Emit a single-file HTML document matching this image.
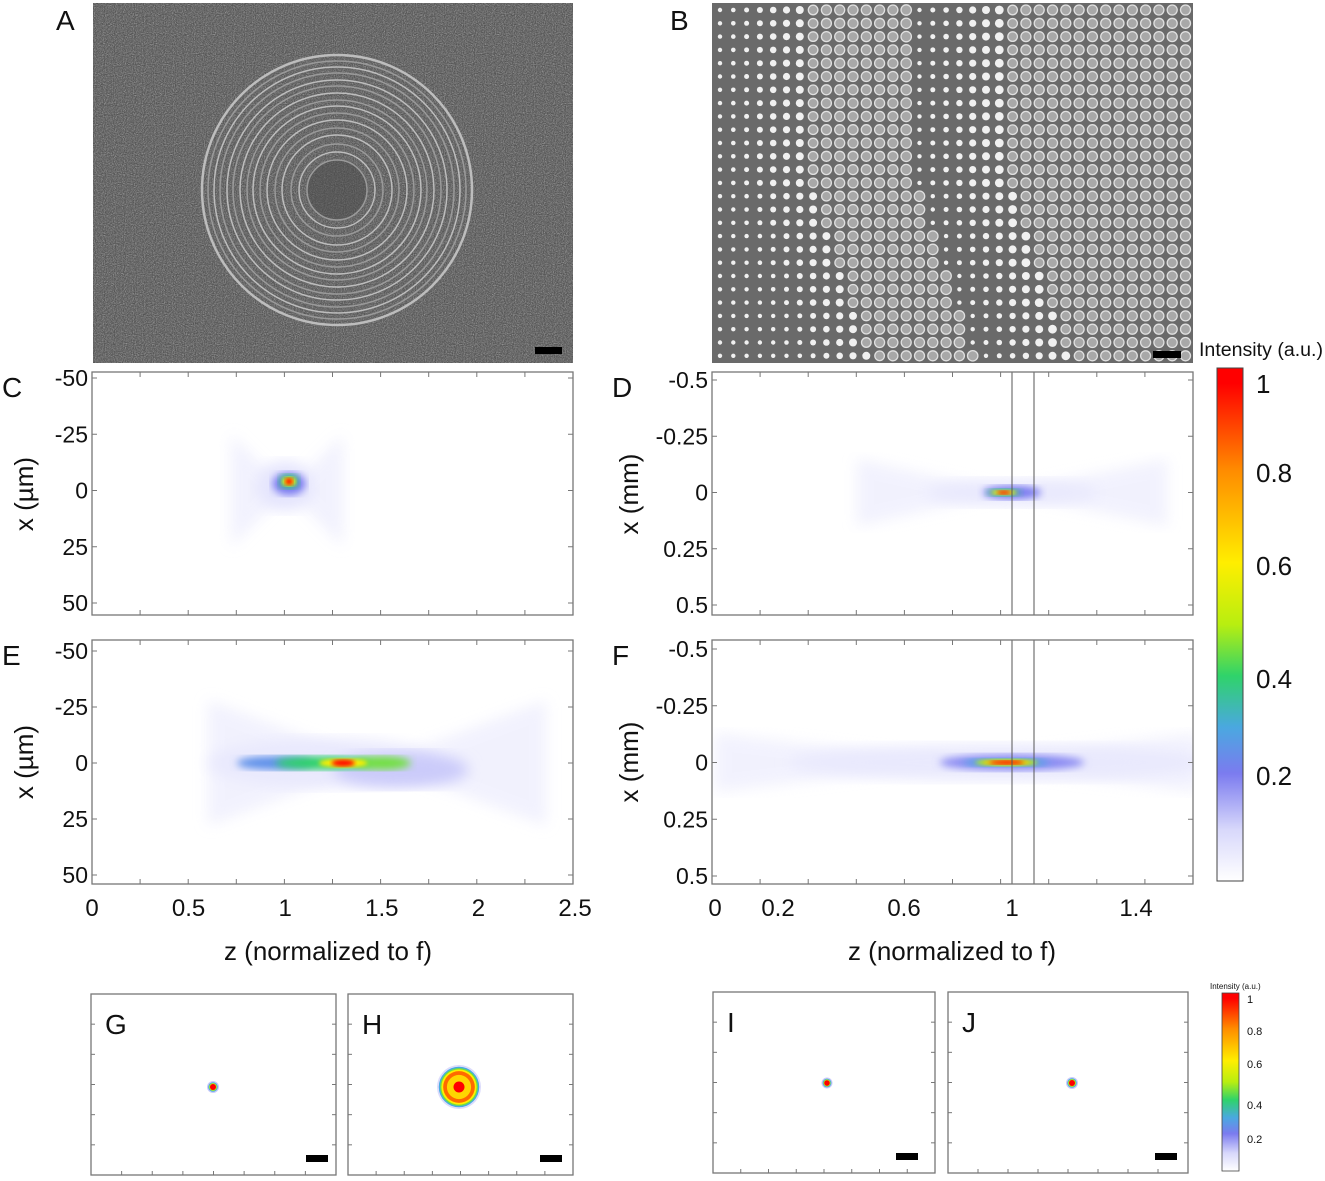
<!DOCTYPE html>
<html><head><meta charset="utf-8"><style>
html,body{margin:0;padding:0;background:#fff;width:1325px;height:1181px;overflow:hidden}
text{font-family:"Liberation Sans",sans-serif;fill:#111}
</style></head><body>
<svg id="fig" width="1325" height="1181" viewBox="0 0 1325 1181" xmlns="http://www.w3.org/2000/svg">
<defs>
<filter id="noise" x="0" y="0" width="100%" height="100%"><feTurbulence type="fractalNoise" baseFrequency="0.9" numOctaves="2" seed="3"/><feColorMatrix type="matrix" values="0 0 0 0 0.5  0 0 0 0 0.5  0 0 0 0 0.5  0.7 0.7 0.7 0 -0.85"/></filter>
<filter id="b2"><feGaussianBlur stdDeviation="2"/></filter>
<filter id="b4"><feGaussianBlur stdDeviation="4"/></filter>
<filter id="b8"><feGaussianBlur stdDeviation="7"/></filter>
<linearGradient id="cbar" x1="0" y1="1" x2="0" y2="0">
<stop offset="0" stop-color="#ffffff"/><stop offset="0.1" stop-color="#d8d8fb"/><stop offset="0.21" stop-color="#7b7bef"/>
<stop offset="0.3" stop-color="#4aa8e0"/><stop offset="0.4" stop-color="#2fd36a"/><stop offset="0.5" stop-color="#b8ee10"/>
<stop offset="0.62" stop-color="#ffee00"/><stop offset="0.8" stop-color="#ff8c00"/><stop offset="0.97" stop-color="#ff0000"/><stop offset="1" stop-color="#ff0000"/>
</linearGradient>
</defs>
<g id="root"></g>
</svg>
<script>
// ---- data arrays ----
const ringRadii=[30,38,46,55,62,70,77,84,90,97,104,110,117,123,129,135];
const dotColSizes=[2.2,2.3,2.5,3,3.3,3.6,4,4.8,5,5,5,5,5,5,5.2,2.2,2.5,2.8,3.2,3.6,4,4.4,4.8,5,5,5,5,5,5,5,5,5,5,5,5,5];
// C panel blobs (z normalized, x µm, width z, width x, intensity)
const cZ=[1.0,1.02,1.02,1.02,1.02], cX=[-2,-3,-4,-4,-4], cWZ=[0.3,0.17,0.1,0.07,0.04], cWX=[22,10,6,4,3], cI=[0.06,0.2,0.4,0.6,1.0];
const cConeZ=[0.72,1.3], cConeX=[25,25];
// E panel blobs
const eZ=[1.2,1.6,0.95,1.2,1.5,1.3,1.3], eX=[0,3,0,0,0,0,0], eWZ=[1.2,0.7,0.4,0.5,0.3,0.25,0.12], eWX=[22,16,6,6,6,4,3], eI=[0.05,0.1,0.25,0.4,0.45,0.6,1.0];
// D panel blobs (z, x mm)
const dZ=[1.0,1.0,0.97,0.97,0.97], dX=[0,0,0,0,0], dWZ=[0.6,0.2,0.12,0.09,0.05], dWX=[0.12,0.06,0.03,0.022,0.015], dI=[0.05,0.2,0.4,0.6,1.0];
// F panel blobs
const fZ=[0.95,1.0,0.98,0.98,0.98,0.98], fX=[0,0,0,0,0,0], fWZ=[1.4,0.5,0.3,0.22,0.17,0.12], fWX=[0.16,0.07,0.035,0.03,0.022,0.016], fI=[0.05,0.18,0.3,0.5,0.7,1.0];
// colorbar ticks
const cbTicks=[0.2,0.4,0.6,0.8,1], cbTickY=[775,678,565,472,383];
const cTickLabels=["-50","-25","0","25","50"], cTickVals=[-50,-25,0,25,50];
const dTickLabels=["-0.5","-0.25","0","0.25","0.5"], dTickVals=[-0.5,-0.25,0,0.25,0.5];
const eZLabels=["0","0.5","1","1.5","2","2.5"], eZVals=[0,0.5,1,1.5,2,2.5];
const fZLabels=["0","0.2","0.6","1","1.4"], fZVals=[0,0.2,0.6,1,1.4];

const NS="http://www.w3.org/2000/svg", root=document.getElementById('root');
function el(tag,attrs,parent,txt){const e=document.createElementNS(NS,tag);for(const k in attrs)e.setAttribute(k,attrs[k]);if(txt!=null)e.textContent=txt;(parent||root).appendChild(e);return e;}
function cmap(t){const s=[[0,[255,255,255]],[0.08,[220,220,252]],[0.2,[120,120,240]],[0.3,[70,170,225]],[0.4,[45,210,105]],[0.5,[180,238,20]],[0.6,[255,238,0]],[0.8,[255,140,0]],[1,[255,0,0]]];
 for(let i=1;i<s.length;i++){if(t<=s[i][0]){const a=s[i-1],b=s[i],f=(t-a[0])/(b[0]-a[0]);return 'rgb('+a[1].map((v,j)=>Math.round(v+(b[1][j]-v)*f)).join(',')+')';}}return 'rgb(255,0,0)';}
function lin(d0,d1,r0,r1){return v=>r0+(v-d0)/(d1-d0)*(r1-r0);}

// ---- Panel A ----
const gA=el('g',{});

el('rect',{x:93,y:3,width:480,height:360,fill:'#565656'},gA);
el('rect',{x:93,y:3,width:480,height:360,filter:'url(#noise)'},gA);
el('circle',{cx:337,cy:190,r:30,fill:'#4a4a4a',opacity:0.5},gA);
ringRadii.forEach((r,i)=>{const c=el('circle',{cx:337,cy:190,r:r,fill:'none',stroke:i%2?'#bdbdbd':'#9a9a9a','stroke-width':i===ringRadii.length-1?2.5:1.5},gA);});
const sbA=el('rect',{x:535,y:347,width:27,height:7,fill:'#000'},gA);
// ---- Panel B ----
const gB=el('g',{});

el('rect',{x:712,y:3,width:481,height:360,fill:'#6a6a6a'},gB);
for(let r=0;r<27;r++){for(let c=0;c<36;c++){const cx=720+c*13.3,cy=10+r*13.3;if(cx>1191)continue;
 const shift=Math.floor(Math.max(0,r-11)*0.35);const sz=dotColSizes[Math.max(0,c-shift)%dotColSizes.length];
 el('circle',{cx:cx,cy:cy,r:sz,fill:sz>4.5?'#a8a8a8':'#f0f0f0',stroke:sz>4.5?'#e0e0e0':'none','stroke-width':1.3},gB);}}
const sbB=el('rect',{x:1153,y:351,width:28,height:7,fill:'#000'},gB);

// ---- letters ----
[['A',56,30],['B',670,30],['C',2,397],['D',612,397],['E',2,665],['F',612,665]].forEach(([t,x,y])=>{const e=el('text',{x:x,y:y,'font-size':28},null,t);});

// ---- heatmap panels ----
function panel(name,x0,y0,w,h,zs,ys,Z,X,WZ,WX,I,cone,vlines,yTickVals,yTickLabels){
 const g=el('g',{});
 el('rect',{x:x0,y:y0,width:w,height:h,fill:'#fff'},g);
 const cp='cp'+name;const c=el('clipPath',{id:cp},g);el('rect',{x:x0,y:y0,width:w,height:h},c);
 const hg=el('g',{'clip-path':'url(#'+cp+')'},g);
 if(cone){const zA=zs(cone[0]),zB=zs(cone[1]),zm=zs((cone[0]+cone[1])/2);const yu=ys(-cone[2]),yd=ys(cone[2]),y0c=ys(0);
  const p=el('polygon',{points:`${zA},${yu} ${zm},${y0c} ${zB},${yu} ${zB},${yd} ${zm},${y0c} ${zA},${yd}`,fill:cmap(0.05),opacity:0.6,filter:'url(#b8)'},hg);}
 Z.forEach((z,i)=>{const rx=Math.abs(zs(z+WZ[i]/2)-zs(z-WZ[i]/2))/2, ry=Math.abs(ys(WX[i]/2)-ys(-WX[i]/2))/2;
  const e=el('ellipse',{cx:zs(z),cy:ys(X[i]),rx:rx,ry:ry,fill:cmap(I[i]),filter:I[i]<0.15?'url(#b8)':(I[i]<0.5?'url(#b4)':'url(#b2)')},hg);
  });
 (vlines||[]).forEach(v=>{const l=el('line',{x1:v,x2:v,y1:y0,y2:y0+h,stroke:'#555','stroke-width':1},g);});
 el('rect',{x:x0,y:y0,width:w,height:h,fill:'none',stroke:'#777','stroke-width':1.3},g);
 for(let i=1;i<10;i++){const tx=x0+i*w/10;el('line',{x1:tx,x2:tx,y1:y0,y2:y0+5,stroke:'#777'},g);el('line',{x1:tx,x2:tx,y1:y0+h,y2:y0+h-5,stroke:'#777'},g);}
 yTickVals.forEach((v,i)=>{const ty=ys(v);el('line',{x1:x0+w,x2:x0+w-5,y1:ty,y2:ty,stroke:'#777'},g);el('line',{x1:x0,x2:x0+5,y1:ty,y2:ty,stroke:'#777'},g);
  const t=el('text',{x:x0-4,y:ty+8,'font-size':23,'text-anchor':'end'},g,yTickLabels[i]);});
 return g;}
const zE=lin(0,2.5,92,575);
const fzP=[0,0.2,0.6,1,1.4],fxP=[715,778,904,1012,1136];
function zF(v){for(let i=1;i<fzP.length;i++){if(v<=fzP[i]||i===fzP.length-1){return fxP[i-1]+(v-fzP[i-1])/(fzP[i]-fzP[i-1])*(fxP[i]-fxP[i-1]);}}}
panel('panel-c-heatmap',92,372,481,243,zE,lin(-50,50,378,603),cZ,cX,cWZ,cWX,cI,[cConeZ[0],cConeZ[1],cConeX[0]],null,cTickVals,cTickLabels);
panel('panel-e-heatmap',92,640,481,244,zE,lin(-50,50,651,875),eZ,eX,eWZ,eWX,eI,[0.6,2.35,28],null,cTickVals,cTickLabels);
panel('panel-d-heatmap',712,372,481,243,zF,lin(-0.5,0.5,380,605),dZ,dX,dWZ,dWX,dI,[0.45,1.5,0.15],[1012,1034],dTickVals,dTickLabels);
panel('panel-f-heatmap',712,640,481,244,zF,lin(-0.5,0.5,649,876),fZ,fX,fWZ,fWX,fI,[0,1.6,0.13],[1012,1034],dTickVals,dTickLabels);

// x tick labels
eZVals.forEach((v,i)=>{const t=el('text',{x:zE(v),y:916,'font-size':24,'text-anchor':'middle'},null,eZLabels[i]);});
fZVals.forEach((v,i)=>{const t=el('text',{x:zF(v),y:916,'font-size':24,'text-anchor':'middle'},null,fZLabels[i]);});
// axis titles
[[328,960,'z (normalized to f)','x-axis-title-left'],[952,960,'z (normalized to f)','x-axis-title-right']].forEach(([x,y,t,n])=>{const e=el('text',{x:x,y:y,'font-size':26,'text-anchor':'middle'},null,t);});
[[33,494,'x (µm)','y-axis-title-c'],[33,762,'x (µm)','y-axis-title-e'],[638,494,'x (mm)','y-axis-title-d'],[638,762,'x (mm)','y-axis-title-f']].forEach(([x,y,t,n])=>{const e=el('text',{x:x,y:y,'font-size':26,'text-anchor':'middle',transform:`rotate(-90 ${x} ${y})`},null,t);});

// ---- colorbar ----
const cb=el('rect',{x:1217,y:368,width:26,height:513,fill:'url(#cbar)',stroke:'#444','stroke-width':1});
const cbt=el('text',{x:1199,y:356,'font-size':19,textLength:124,lengthAdjust:'spacingAndGlyphs'},null,'Intensity (a.u.)');
cbTicks.forEach((v,i)=>{const t=el('text',{x:1256,y:cbTickY[i]+10,'font-size':26},null,String(v));});

// ---- small spot panels ----
function spot(name,letter,x0,w,y0,h,cx,cy,rad,ring,sbx){
 const g=el('g',{});
 el('rect',{x:x0,y:y0,width:w,height:h,fill:'#fff',stroke:'#777','stroke-width':1.3},g);
 for(let i=1;i<8;i++){const tx=x0+i*w/8;el('line',{x1:tx,x2:tx,y1:y0+h,y2:y0+h-4,stroke:'#777'},g);}
 for(let i=1;i<6;i++){const ty=y0+i*h/6;el('line',{x1:x0,x2:x0+4,y1:ty,y2:ty,stroke:'#777'},g);el('line',{x1:x0+w,x2:x0+w-4,y1:ty,y2:ty,stroke:'#777'},g);}
 const lvl=ring?[[1,0.08],[0.92,0.3],[0.86,0.45],[0.8,0.6],[0.72,0.85],[0.55,0.65],[0.25,1]]:[[1,0.1],[0.8,0.3],[0.65,0.5],[0.5,1]];
 lvl.forEach(([f,t])=>{const c=el('circle',{cx:cx,cy:cy,r:rad*f,fill:cmap(t)},g);});
 const L=el('text',{x:x0+14,y:y0+40,'font-size':28},g,letter);
 const sb=el('rect',{x:sbx,y:y0+h-20,width:22,height:7,fill:'#000'},g);}
spot('panel-g-spot','G',91,245,994,181,213,1087,6,false,306);
spot('panel-h-spot','H',348,225,994,181,459,1087,22,true,540);
spot('panel-i-spot','I',713,222,992,181,827,1083,5.5,false,896);
spot('panel-j-spot','J',948,240,992,181,1072,1083,6,false,1155);
const cb2=el('rect',{x:1222,y:993,width:17,height:178,fill:'url(#cbar)',stroke:'#444','stroke-width':0.8});
const cbt2=el('text',{x:1210,y:989,'font-size':8},null,'Intensity (a.u.)');
const sTicks=[1,0.8,0.6,0.4,0.2],sY=[999,1031,1064,1105,1139];
sTicks.forEach((v,i)=>{const t=el('text',{x:1247,y:sY[i]+4,'font-size':11},null,String(v));});
</script>
</body></html>
